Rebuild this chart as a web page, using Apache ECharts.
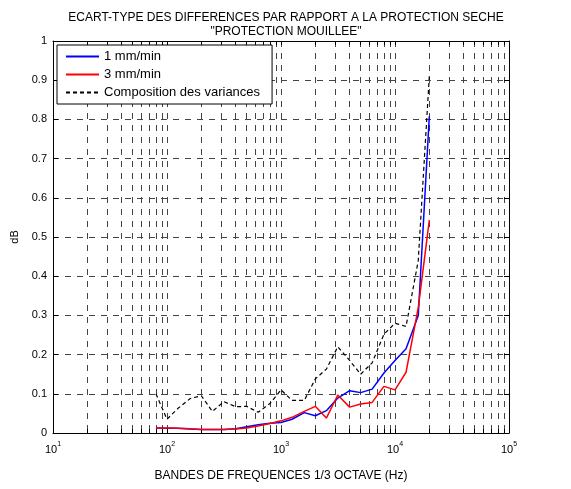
<!DOCTYPE html>
<html><head><meta charset="utf-8">
<script src="https://cdn.jsdelivr.net/npm/echarts@6/dist/echarts.min.js"></script>
<style>html,body{margin:0;padding:0;background:#fff}#c{width:571px;height:489px}</style>
</head><body><div id="c"></div>
<script>
// 1/3 octave band centre frequencies (Hz)
const freqs = [80,100,125,160,200,250,315,400,500,630,800,1000,1250,1600,2000,2500,3150,4000,5000,6300,8000,10000,12500,16000,20000];
// 1 mm/min (blue)
const mm1 = [0.013,0.012,0.012,0.010,0.009,0.009,0.009,0.011,0.016,0.021,0.025,0.027,0.035,0.052,0.044,0.057,0.089,0.108,0.103,0.112,0.153,0.185,0.215,0.300,0.808];
// 3 mm/min (red)
const mm3 = [0.013,0.013,0.012,0.011,0.009,0.009,0.009,0.010,0.013,0.018,0.024,0.031,0.040,0.055,0.068,0.038,0.097,0.066,0.074,0.078,0.119,0.110,0.155,0.320,0.543];
// Composition des variances (black dashed)
const composition = [0.100,0.035,0.063,0.088,0.095,0.055,0.080,0.067,0.068,0.053,0.075,0.110,0.083,0.083,0.138,0.163,0.220,0.185,0.150,0.179,0.252,0.280,0.272,0.440,0.910];

const xMajorTicks = [10,100,1000,10000,100000];
const xMinorTicks = [20,30,40,50,60,70,80,90,200,300,400,500,600,700,800,900,2000,3000,4000,5000,6000,7000,8000,9000,20000,30000,40000,50000,60000,70000,80000,90000];
const yTickLabels = ['0','0.1','0.2','0.3','0.4','0.5','0.6','0.7','0.8','0.9','1'];

const titleLines = ['ECART-TYPE DES DIFFERENCES PAR RAPPORT A LA PROTECTION SECHE', '"PROTECTION MOUILLEE"'];
const xName = 'BANDES DE FREQUENCES 1/3 OCTAVE (Hz)';
const yName = 'dB';
const seriesNames = ['1 mm/min', '3 mm/min', 'Composition des variances'];

const FONT = 'Liberation Sans, Arial, sans-serif';
const allXTicks = xMajorTicks.concat(xMinorTicks).sort((a,b)=>a-b);
const pairs = arr => freqs.map((f,i)=>[f, arr[i]]);

const chart = echarts.init(document.getElementById('c'));
const gridLine = {show:true, lineStyle:{color:'#444', width:1, type:[6,6]}};
chart.setOption({
  animation:false,
  backgroundColor:'#fff',
  textStyle:{fontFamily:FONT, color:'#000'},
  title:{
    text: titleLines.join('\n'),
    left: 281, top: 6, textAlign:'center',
    textStyle:{fontFamily:FONT, fontSize:12, fontWeight:'normal', color:'#000', lineHeight:14}
  },
  legend:{
    orient:'vertical', left:57, top:45,
    backgroundColor:'#fff', borderColor:'#000', borderWidth:1, borderRadius:0,
    padding:[5,12,5,8], itemGap:5, itemWidth:33, itemHeight:12,
    itemStyle:{opacity:0},
    textStyle:{fontFamily:FONT, fontSize:13, color:'#000'},
    data: seriesNames
  },
  grid:{left:53, right:62, top:41, bottom:56, containLabel:false},
  xAxis:[{
    type:'log', logBase:10, min:10, max:100000, position:'bottom',
    name:xName, nameLocation:'middle', nameGap:37,
    nameTextStyle:{fontFamily:FONT, fontSize:12, color:'#000'},
    axisLine:{show:true, onZero:false, lineStyle:{color:'#000', width:1}},
    axisTick:{show:true, inside:true, length:4, customValues:allXTicks, lineStyle:{color:'#000'}},
    axisLabel:{
      customValues:xMajorTicks, margin:7, color:'#000',
      formatter: v => '{b|10}{s|' + Math.round(Math.log10(v)) + '}',
      rich:{
        b:{fontFamily:FONT, fontSize:11, color:'#000', padding:[4,0,0,0]},
        s:{fontFamily:FONT, fontSize:7, color:'#000', padding:[0,0,6,0]}
      }
    },
    splitLine:gridLine
  },{
    type:'log', logBase:10, min:10, max:100000, position:'top',
    axisLine:{show:true, onZero:false, lineStyle:{color:'#000', width:1}},
    axisTick:{show:true, inside:true, length:4, customValues:allXTicks, lineStyle:{color:'#000'}},
    axisLabel:{show:false}, splitLine:{show:false}
  }],
  yAxis:[{
    type:'value', min:0, max:1, interval:0.1, position:'left',
    name:yName, nameLocation:'middle', nameGap:31, nameRotate:90,
    nameTextStyle:{fontFamily:FONT, fontSize:11, color:'#000'},
    axisLine:{show:true, onZero:false, lineStyle:{color:'#000', width:1}},
    axisTick:{show:true, inside:true, length:5, lineStyle:{color:'#000'}},
    axisLabel:{color:'#000', fontFamily:FONT, fontSize:11, margin:6,
      formatter: v => yTickLabels[Math.round(v*10)]},
    splitLine:gridLine
  },{
    type:'value', min:0, max:1, interval:0.1, position:'right',
    axisLine:{show:true, onZero:false, lineStyle:{color:'#000', width:1}},
    axisTick:{show:true, inside:true, length:5, lineStyle:{color:'#000'}},
    axisLabel:{show:false}, splitLine:{show:false}
  }],
  series:[
    {name:seriesNames[0], type:'line', data:pairs(mm1), symbol:'none', color:'#0000ff',
     lineStyle:{color:'#0000ff', width:1.5}, z:3},
    {name:seriesNames[1], type:'line', data:pairs(mm3), symbol:'none', color:'#ff0000',
     lineStyle:{color:'#ff0000', width:1.5}, z:4},
    {name:seriesNames[2], type:'line', data:pairs(composition), symbol:'none', color:'#000',
     lineStyle:{color:'#000', width:1.2, type:[4,3]}, z:2}
  ]
});
</script></body></html>
